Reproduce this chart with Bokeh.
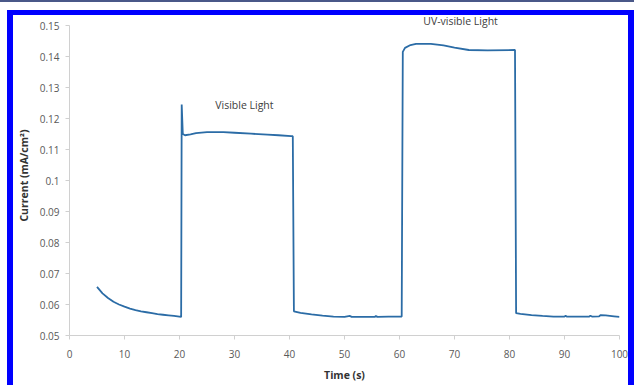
from bokeh.plotting import figure
from bokeh.layouts import column
from bokeh.models import Range1d, FixedTicker, Label
from bokeh.embed import file_html
from bokeh.resources import INLINE

# --- data ---
time_s = [5, 6, 7, 8, 9, 10, 11, 12, 13, 14, 15, 16, 17, 18, 19, 20.3,
          20.4, 20.6, 21, 22, 23, 25, 28, 30, 33, 36, 38, 40.3, 40.6,
          40.8, 42, 44, 46, 48, 50, 51, 51.3, 55.5, 55.7, 56, 58, 60.4,
          60.6, 61, 62, 63, 65.7, 68, 70, 72.6, 76, 81.0,
          81.2, 82, 84, 86, 88, 90, 90.2, 90.4, 94.5, 94.7, 95, 96.3, 96.6, 97.5, 99, 100]
current = [0.0657, 0.0636, 0.0621, 0.0609, 0.0600, 0.0593, 0.0587, 0.0582, 0.0578, 0.0575, 0.0572, 0.0569, 0.0567, 0.0565, 0.0563, 0.0560,
           0.1245, 0.1150, 0.1146, 0.1149, 0.1153, 0.1156, 0.1156, 0.1154, 0.1151, 0.1148, 0.1146, 0.1143, 0.1143,
           0.0578, 0.0573, 0.0568, 0.0564, 0.0561, 0.0560, 0.0563, 0.0560, 0.0560, 0.0563, 0.0560, 0.0561, 0.0561,
           0.1415, 0.1428, 0.1437, 0.1441, 0.1441, 0.1436, 0.1429, 0.1421, 0.1420, 0.1421,
           0.0572, 0.0570, 0.0566, 0.0563, 0.0561, 0.0561, 0.0564, 0.0561, 0.0561, 0.0564, 0.0561, 0.0562, 0.0566, 0.0565, 0.0562, 0.0560]

x_ticks = [0, 10, 20, 30, 40, 50, 60, 70, 80, 90, 100]
y_ticks = [0.05, 0.06, 0.07, 0.08, 0.09, 0.10, 0.11, 0.12, 0.13, 0.14, 0.15]
y_tick_labels = ["0.05", "0.06", "0.07", "0.08", "0.09", "0.1", "0.11", "0.12", "0.13", "0.14", "0.15"]

annotations = ["Visible Light", "UV-visible Light"]
annot_x = [31.8, 71.1]
annot_y = [0.1242, 0.1516]

FONT = "Open Sans"

p = figure(width=627, height=375, output_backend="svg", toolbar_location=None,
           x_range=Range1d(0, 100), y_range=Range1d(0.05, 0.15323),
           min_border_left=55, min_border_right=21, min_border_top=0, min_border_bottom=55)
p.background_fill_color = "white"
p.border_fill_color = "white"
p.outline_line_color = None
p.grid.visible = False

for ax in (p.xaxis[0], p.yaxis[0]):
    ax.axis_line_color = "#d0d0d0"
    ax.major_tick_line_color = "#d0d0d0"
    ax.major_tick_in = 0
    ax.major_tick_out = 4
    ax.minor_tick_line_color = None
    ax.major_label_text_font = FONT
    ax.major_label_text_font_size = "10px"
    ax.major_label_text_color = "#595959"
    ax.axis_label_text_font = FONT
    ax.axis_label_text_font_size = "10.5px"
    ax.axis_label_text_font_style = "bold"
    ax.axis_label_text_color = "#333333"

p.yaxis.bounds = (0.05, 0.15)
p.xaxis.ticker = FixedTicker(ticks=x_ticks)
p.yaxis.ticker = FixedTicker(ticks=y_ticks)
p.yaxis.major_label_overrides = {t: l for t, l in zip(y_ticks, y_tick_labels)}
p.xaxis.axis_label = "Time (s)"
p.yaxis.axis_label = "Current (mA/cm²)"
p.xaxis.major_label_standoff = 10
p.yaxis.major_label_standoff = 6
p.xaxis.axis_label_standoff = 7
p.yaxis.axis_label_standoff = 6

p.line(time_s, current, line_color="#2b6ca6", line_width=1.8)

for txt, ax_, ay_ in zip(annotations, annot_x, annot_y):
    p.add_layout(Label(x=ax_, y=ay_, text=txt, text_font=FONT, text_font_size="10.5px",
                       text_color="#404040", text_align="center", text_baseline="middle"))

# blue page frame around the figure
p.styles = {"margin-left": "7px", "margin-top": "8px",
            "border-style": "solid", "border-color": "#0000ff",
            "border-width": "5px 6px 0px 6px"}

root = column(p, styles={"border-top": "2px solid #4a5888"})

open("out.html", "w").write(file_html(root, INLINE))
